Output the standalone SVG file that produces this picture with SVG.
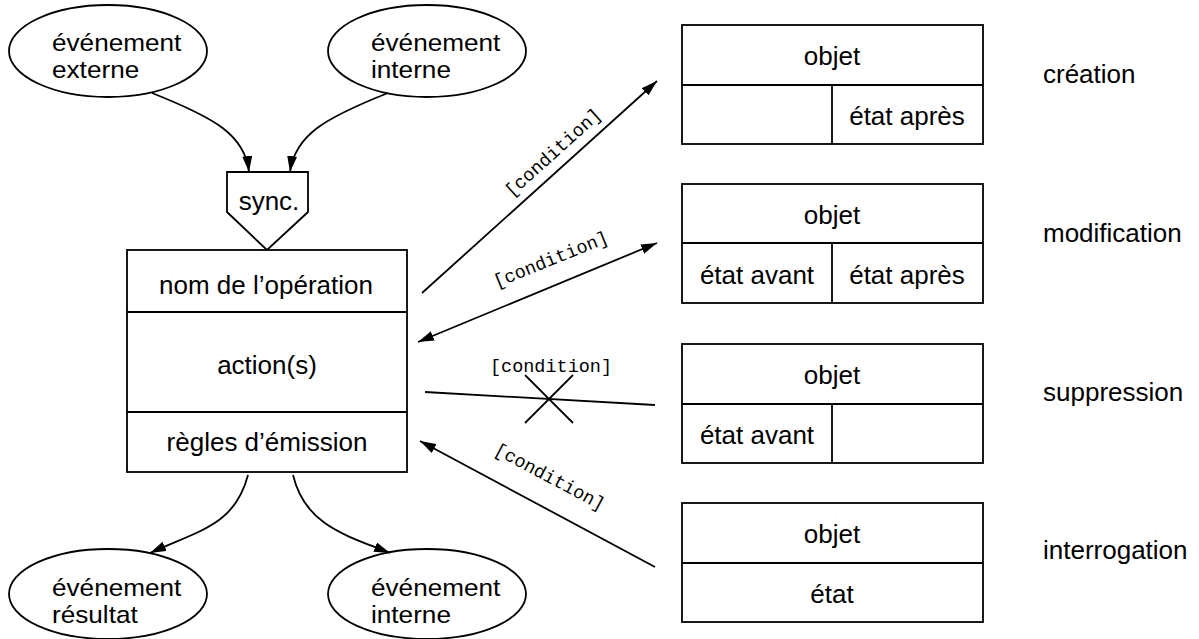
<svg xmlns="http://www.w3.org/2000/svg" width="1199" height="639" viewBox="0 0 1199 639">
<style>
.s{fill:none;stroke:#000;stroke-width:1.8}
.b{fill:#fff;stroke:#000;stroke-width:1.8}
.t{font-family:"Liberation Sans",Arial,sans-serif;font-size:26px;fill:#000}
.e{font-family:"Liberation Sans",Arial,sans-serif;font-size:24px;fill:#000}
.m{font-family:"Liberation Mono","Courier New",monospace;font-size:18.5px;fill:#000}
.c{text-anchor:middle}
</style>
<defs>
<marker id="ah" viewBox="0 0 16 10" refX="16" refY="5" markerWidth="16" markerHeight="10" markerUnits="userSpaceOnUse" orient="auto-start-reverse">
<path d="M0,0 L16,5 L0,10 Z" fill="#000"/>
</marker>
</defs>
<rect width="1199" height="639" fill="#fff"/>
<g id="ev-externe"><ellipse class="b" cx="108" cy="51" rx="99" ry="46"/><g transform="translate(52,0) scale(1.09,1)"><text class="e" x="0" y="51">événement</text><text class="e" x="0" y="78">externe</text></g></g>
<g id="ev-interne-top"><ellipse class="b" cx="427" cy="51" rx="99" ry="46"/><g transform="translate(371,0) scale(1.09,1)"><text class="e" x="0" y="51">événement</text><text class="e" x="0" y="78">interne</text></g></g>
<g id="sync"><path class="b" d="M227,172 H308 V212 L267,250 L227,212 Z"/><text class="t" x="269" y="210" text-anchor="middle">sync.</text></g>
<g id="operation"><rect class="b" x="127" y="250" width="280" height="222"/><line class="s" x1="127" y1="312" x2="407" y2="312"/><line class="s" x1="127" y1="412" x2="407" y2="412"/>
<text class="t c" x="266" y="294">nom de l’opération</text><text class="t c" x="267" y="374">action(s)</text><text class="t c" x="267" y="451">règles d’émission</text></g>
<g id="ev-resultat"><ellipse class="b" cx="108" cy="594" rx="99" ry="45"/><g transform="translate(52,0) scale(1.09,1)"><text class="e" x="0" y="596">événement</text><text class="e" x="0" y="623">résultat</text></g></g>
<g id="ev-interne-bottom"><ellipse class="b" cx="427" cy="594" rx="99" ry="45"/><g transform="translate(371,0) scale(1.09,1)"><text class="e" x="0" y="596">événement</text><text class="e" x="0" y="623">interne</text></g></g>
<g id="obj-creation"><rect class="b" x="682" y="25" width="301" height="119"/><line class="s" x1="682" y1="85" x2="983" y2="85"/><line class="s" x1="832" y1="85" x2="832" y2="144"/>
<text class="t c" x="832" y="65">objet</text><text class="t c" x="907" y="125">état après</text></g>
<g id="obj-modification"><rect class="b" x="682" y="184" width="301" height="119"/><line class="s" x1="682" y1="243" x2="983" y2="243"/><line class="s" x1="832" y1="243" x2="832" y2="303"/>
<text class="t c" x="832" y="224">objet</text><text class="t c" x="757" y="284">état avant</text><text class="t c" x="907" y="284">état après</text></g>
<g id="obj-suppression"><rect class="b" x="682" y="344" width="301" height="119"/><line class="s" x1="682" y1="404" x2="983" y2="404"/><line class="s" x1="832" y1="404" x2="832" y2="463"/>
<text class="t c" x="832" y="384">objet</text><text class="t c" x="757" y="444">état avant</text></g>
<g id="obj-interrogation"><rect class="b" x="682" y="503" width="301" height="119"/><line class="s" x1="682" y1="563" x2="983" y2="563"/>
<text class="t c" x="832" y="543">objet</text><text class="t c" x="832" y="603">état</text></g>
<g id="labels"><text class="t" x="1043" y="83">création</text><text class="t" x="1043" y="242">modification</text><text class="t" x="1043" y="401">suppression</text><text class="t" x="1043" y="559">interrogation</text></g>
<g id="connectors">
<path class="s" d="M152,93 C215,118 245,135 249,172" marker-end="url(#ah)"/>
<path class="s" d="M388,93 C325,118 295,135 290,172" marker-end="url(#ah)"/>
<path class="s" d="M248,475 C235,525 200,530 150,553" marker-end="url(#ah)"/>
<path class="s" d="M293,475 C305,525 345,535 390,553" marker-end="url(#ah)"/>
<line class="s" x1="422" y1="293" x2="657" y2="81" marker-end="url(#ah)"/>
<text class="m c" transform="translate(557,157) rotate(-42)">[condition]</text>
<line class="s" x1="418" y1="342" x2="657" y2="243" marker-start="url(#ah)" marker-end="url(#ah)"/>
<text class="m c" transform="translate(553,265) rotate(-22)">[condition]</text>
<line class="s" x1="425" y1="392" x2="655" y2="405"/>
<line class="s" x1="525" y1="375" x2="573" y2="423"/>
<line class="s" x1="573" y1="375" x2="525" y2="423"/>
<text class="m c" x="551" y="372">[condition]</text>
<line class="s" x1="655" y1="567" x2="420" y2="441" marker-end="url(#ah)"/>
<text class="m c" transform="translate(547,482) rotate(28)">[condition]</text>
</g>
</svg>
